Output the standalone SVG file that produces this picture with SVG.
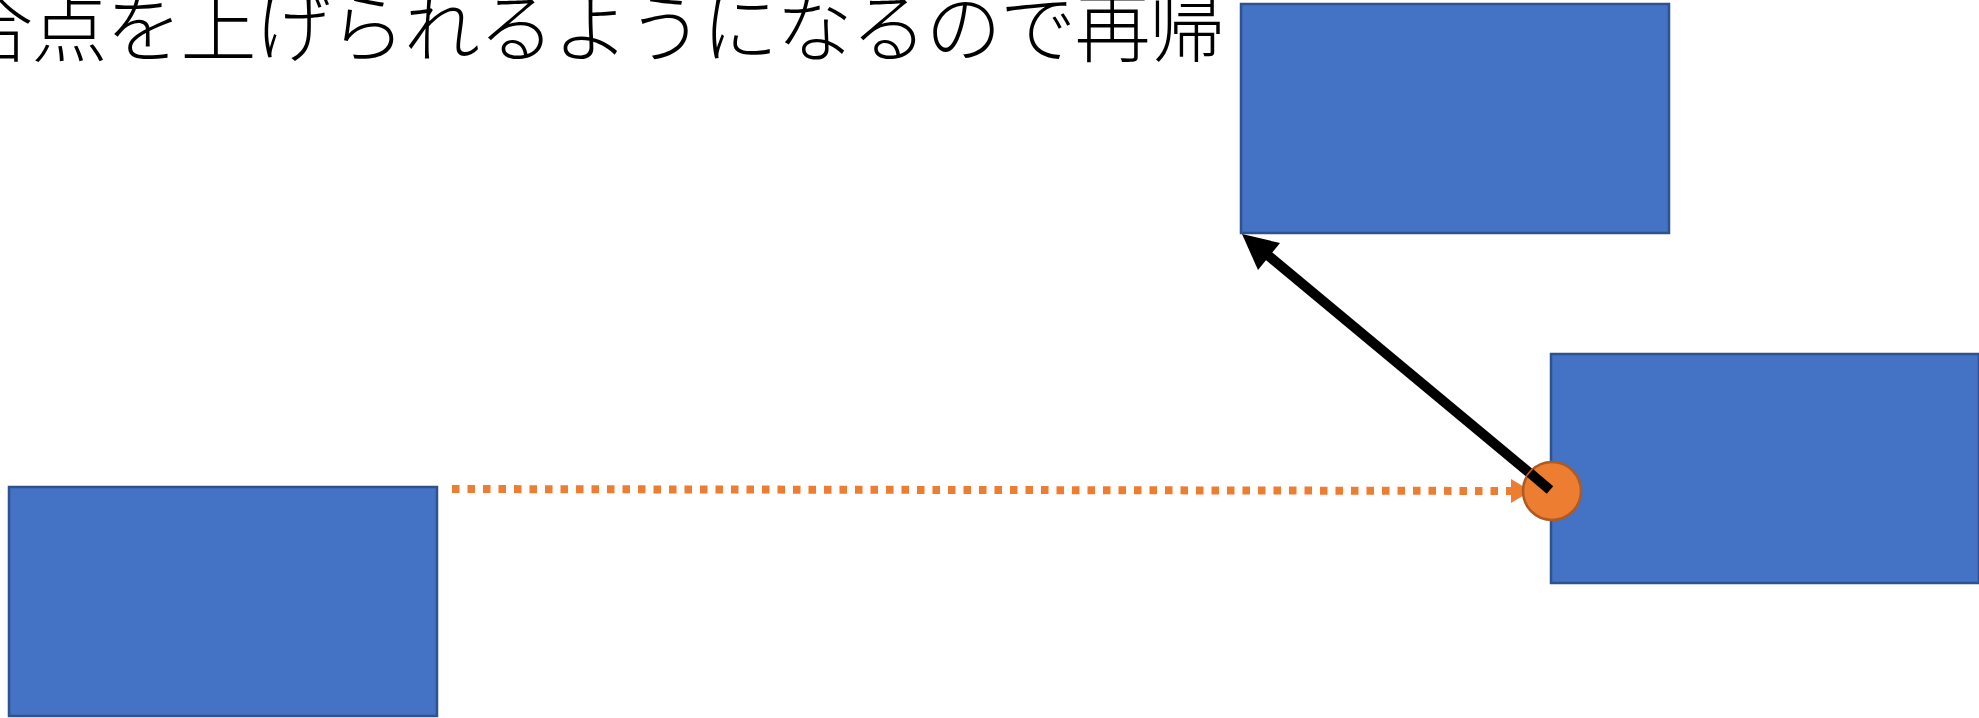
<svg xmlns="http://www.w3.org/2000/svg" width="1979" height="718" viewBox="0 0 1979 718">
<style>
.box{fill:#4472C4;stroke:#2F528F;stroke-width:2.5}
.txt{font-family:"Noto Sans CJK JP","Noto Sans CJK SC",sans-serif;font-size:76px;font-weight:300;letter-spacing:-1.5px;fill:#000}
.dot{stroke:#ED7D31;stroke-width:8;stroke-dasharray:7.5 8;fill:none}
.blk{stroke:#000;stroke-width:10;fill:none}
</style>
<rect width="1979" height="718" fill="#fff"/>
<g id="caption"><text class="txt" x="-43" y="56">合点を上げられるようになるので再帰</text></g>
<g id="node-top"><rect class="box" x="1241" y="4" width="428" height="229"/></g>
<g id="node-left"><rect class="box" x="9" y="487" width="428" height="229"/></g>
<g id="node-right"><rect class="box" x="1551" y="354" width="428" height="229"/></g>
<g id="connectors">
<line class="dot" x1="452" y1="489" x2="1513" y2="491"/>
<polygon points="1511,479 1531,491 1511,503" fill="#ED7D31"/>
<line class="blk" x1="1550" y1="490" x2="1264" y2="252"/>
<polygon points="1242,234 1280,243 1258,270" fill="#000"/>
</g>
<g id="node-dot"><circle cx="1552" cy="491" r="29" fill="#ED7D31" stroke="#AE5A21" stroke-width="2.5"/></g>
<line class="blk" x1="1550" y1="490" x2="1530" y2="473"/>
</svg>
